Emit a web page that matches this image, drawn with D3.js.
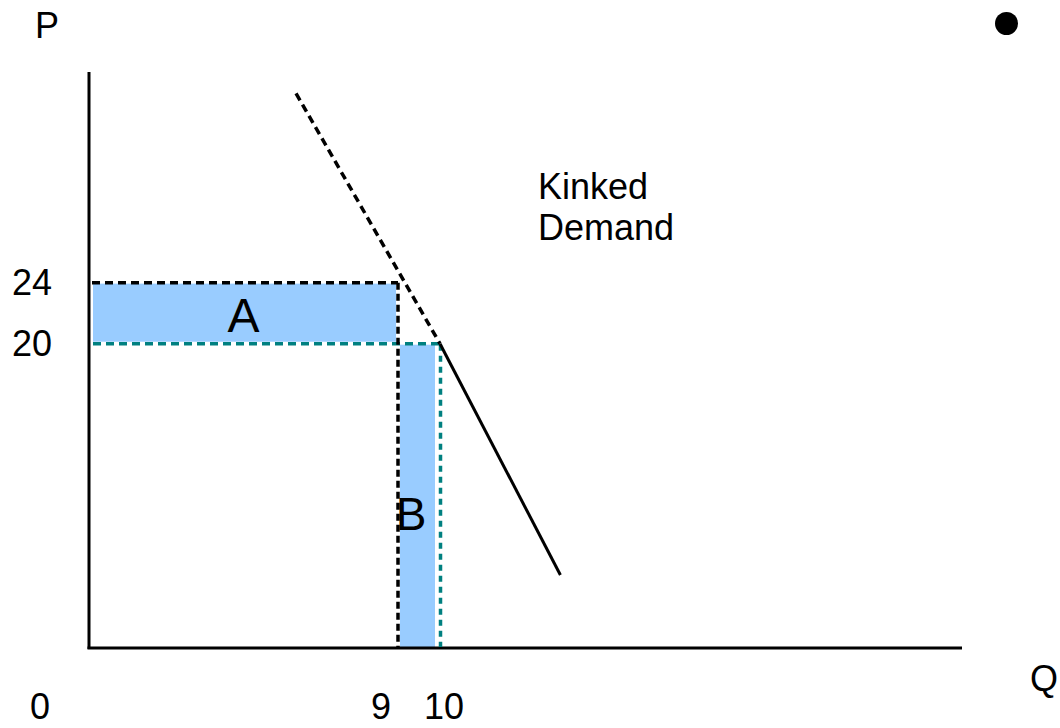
<!DOCTYPE html>
<html>
<head>
<meta charset="utf-8">
<script src="https://cdn.jsdelivr.net/npm/d3@7"></script>
<style>
  html, body { margin: 0; padding: 0; background: #fff; }
  svg text { font-family: "Liberation Sans", Arial, sans-serif; fill: #000; }
</style>
</head>
<body>
<svg id="chart" width="1060" height="728"></svg>
<script>
// ---- data ----
const qBreaks = [0, 9, 10, 22.4];          // quantity scale anchors (origin, 9, 10, axis end)
const pMax = 37.8;                          // price at top of vertical axis
const kink = { q: 10, p: 20 };
const demandUpper = [ { q: 6.03, p: 36.4 }, { q: 10, p: 20 } ];   // dotted part
const demandLower = [ { q: 10, p: 20 }, { q: 12.86, p: 4.85 } ];  // solid part
const areaA = { q0: 0, q1: 9, p0: 20, p1: 24, label: "A" };
const areaB = { q0: 9, q1: 10, p0: 0, p1: 20, label: "B" };
const xTickLabels = [ { q: 0, text: "0" }, { q: 9, text: "9" }, { q: 10, text: "10" } ];
const yTickLabels = [ { p: 24, text: "24" }, { p: 20, text: "20" } ];
const axisTitles = { x: "Q", y: "P" };
const curveLabel = ["Kinked", "Demand"];

// ---- scales ----
const svg = d3.select("#chart");
const x = d3.scaleLinear().domain(qBreaks).range([89, 398, 440, 962]);
const y = d3.scaleLinear().domain([0, pMax]).range([649, 72]);

const teal = "#008080";
const fill = "#99ccff";

// fills
svg.append("rect")
  .attr("x", x(areaA.q0) + 4).attr("y", y(areaA.p1) + 1)
  .attr("width", x(areaA.q1) - x(areaA.q0) - 6)
  .attr("height", y(areaA.p0) - y(areaA.p1) - 3)
  .attr("fill", fill);
svg.append("rect")
  .attr("x", x(areaB.q0) + 2).attr("y", y(areaB.p1) + 1)
  .attr("width", x(areaB.q1) - x(areaB.q0) - 7)
  .attr("height", y(areaB.p0) - y(areaB.p1) - 2)
  .attr("fill", fill);

// axes lines
svg.append("line")
  .attr("x1", x(0)).attr("x2", x(0))
  .attr("y1", y(pMax)).attr("y2", y(0))
  .attr("stroke", "#000").attr("stroke-width", 3);
svg.append("line")
  .attr("x1", x(0) - 1.5).attr("x2", x(qBreaks[3]))
  .attr("y1", y(0) - 1).attr("y2", y(0) - 1)
  .attr("stroke", "#000").attr("stroke-width", 3);

// dashed guide lines
svg.append("line")
  .attr("x1", x(areaA.q0) + 3).attr("x2", x(areaA.q1))
  .attr("y1", y(areaA.p1)).attr("y2", y(areaA.p1))
  .attr("stroke", "#000").attr("stroke-width", 3.5).attr("stroke-dasharray", "8,5");
svg.append("line")
  .attr("x1", x(areaA.q0) + 4).attr("x2", x(kink.q))
  .attr("y1", y(kink.p)).attr("y2", y(kink.p))
  .attr("stroke", teal).attr("stroke-width", 3.5).attr("stroke-dasharray", "8,5");
svg.append("line")
  .attr("x1", x(areaB.q0)).attr("x2", x(areaB.q0))
  .attr("y1", y(areaA.p1)).attr("y2", y(0) - 2)
  .attr("stroke", "#000").attr("stroke-width", 3.5).attr("stroke-dasharray", "7,4");
svg.append("line")
  .attr("x1", x(areaB.q1) + 0.5).attr("x2", x(areaB.q1) + 0.5)
  .attr("y1", y(kink.p) + 1).attr("y2", y(0) - 2)
  .attr("stroke", teal).attr("stroke-width", 3.5).attr("stroke-dasharray", "6,5");

// demand curve
const line = d3.line().x(d => x(d.q)).y(d => y(d.p));
svg.append("path").datum(demandUpper)
  .attr("d", line).attr("fill", "none")
  .attr("stroke", "#000").attr("stroke-width", 3.5).attr("stroke-dasharray", "8,5");
svg.append("path").datum(demandLower)
  .attr("d", line).attr("fill", "none")
  .attr("stroke", "#000").attr("stroke-width", 3);

// area labels
svg.append("text")
  .attr("x", (x(areaA.q0) + x(areaA.q1)) / 2).attr("y", 332)
  .attr("text-anchor", "middle").attr("font-size", 48).text(areaA.label);
svg.append("text")
  .attr("x", (x(areaB.q0) + x(areaB.q1)) / 2 - 8).attr("y", 530)
  .attr("text-anchor", "middle").attr("font-size", 46).text(areaB.label);

// tick labels
const xOffsets = { "0": -49, "9": -17, "10": 4 };
svg.selectAll(".xt").data(xTickLabels).enter().append("text")
  .attr("class", "xt")
  .attr("x", d => x(d.q) + xOffsets[d.text]).attr("y", 719)
  .attr("text-anchor", "middle").attr("font-size", 36).text(d => d.text);
svg.selectAll(".yt").data(yTickLabels).enter().append("text")
  .attr("class", "yt")
  .attr("x", 12).attr("y", d => y(d.p) + 12)
  .attr("font-size", 36).text(d => d.text);

// axis titles
svg.append("text").attr("x", 35).attr("y", 38).attr("font-size", 36).text(axisTitles.y);
svg.append("text").attr("x", 1030).attr("y", 691).attr("font-size", 36).text(axisTitles.x);

// curve label
svg.append("text").attr("x", 538).attr("y", 199).attr("font-size", 36).text(curveLabel[0]);
svg.append("text").attr("x", 538).attr("y", 240).attr("font-size", 36).text(curveLabel[1]);

// bullet
svg.append("circle").attr("cx", 1006.5).attr("cy", 23.5).attr("r", 11.5).attr("fill", "#000");
</script>
</body>
</html>
